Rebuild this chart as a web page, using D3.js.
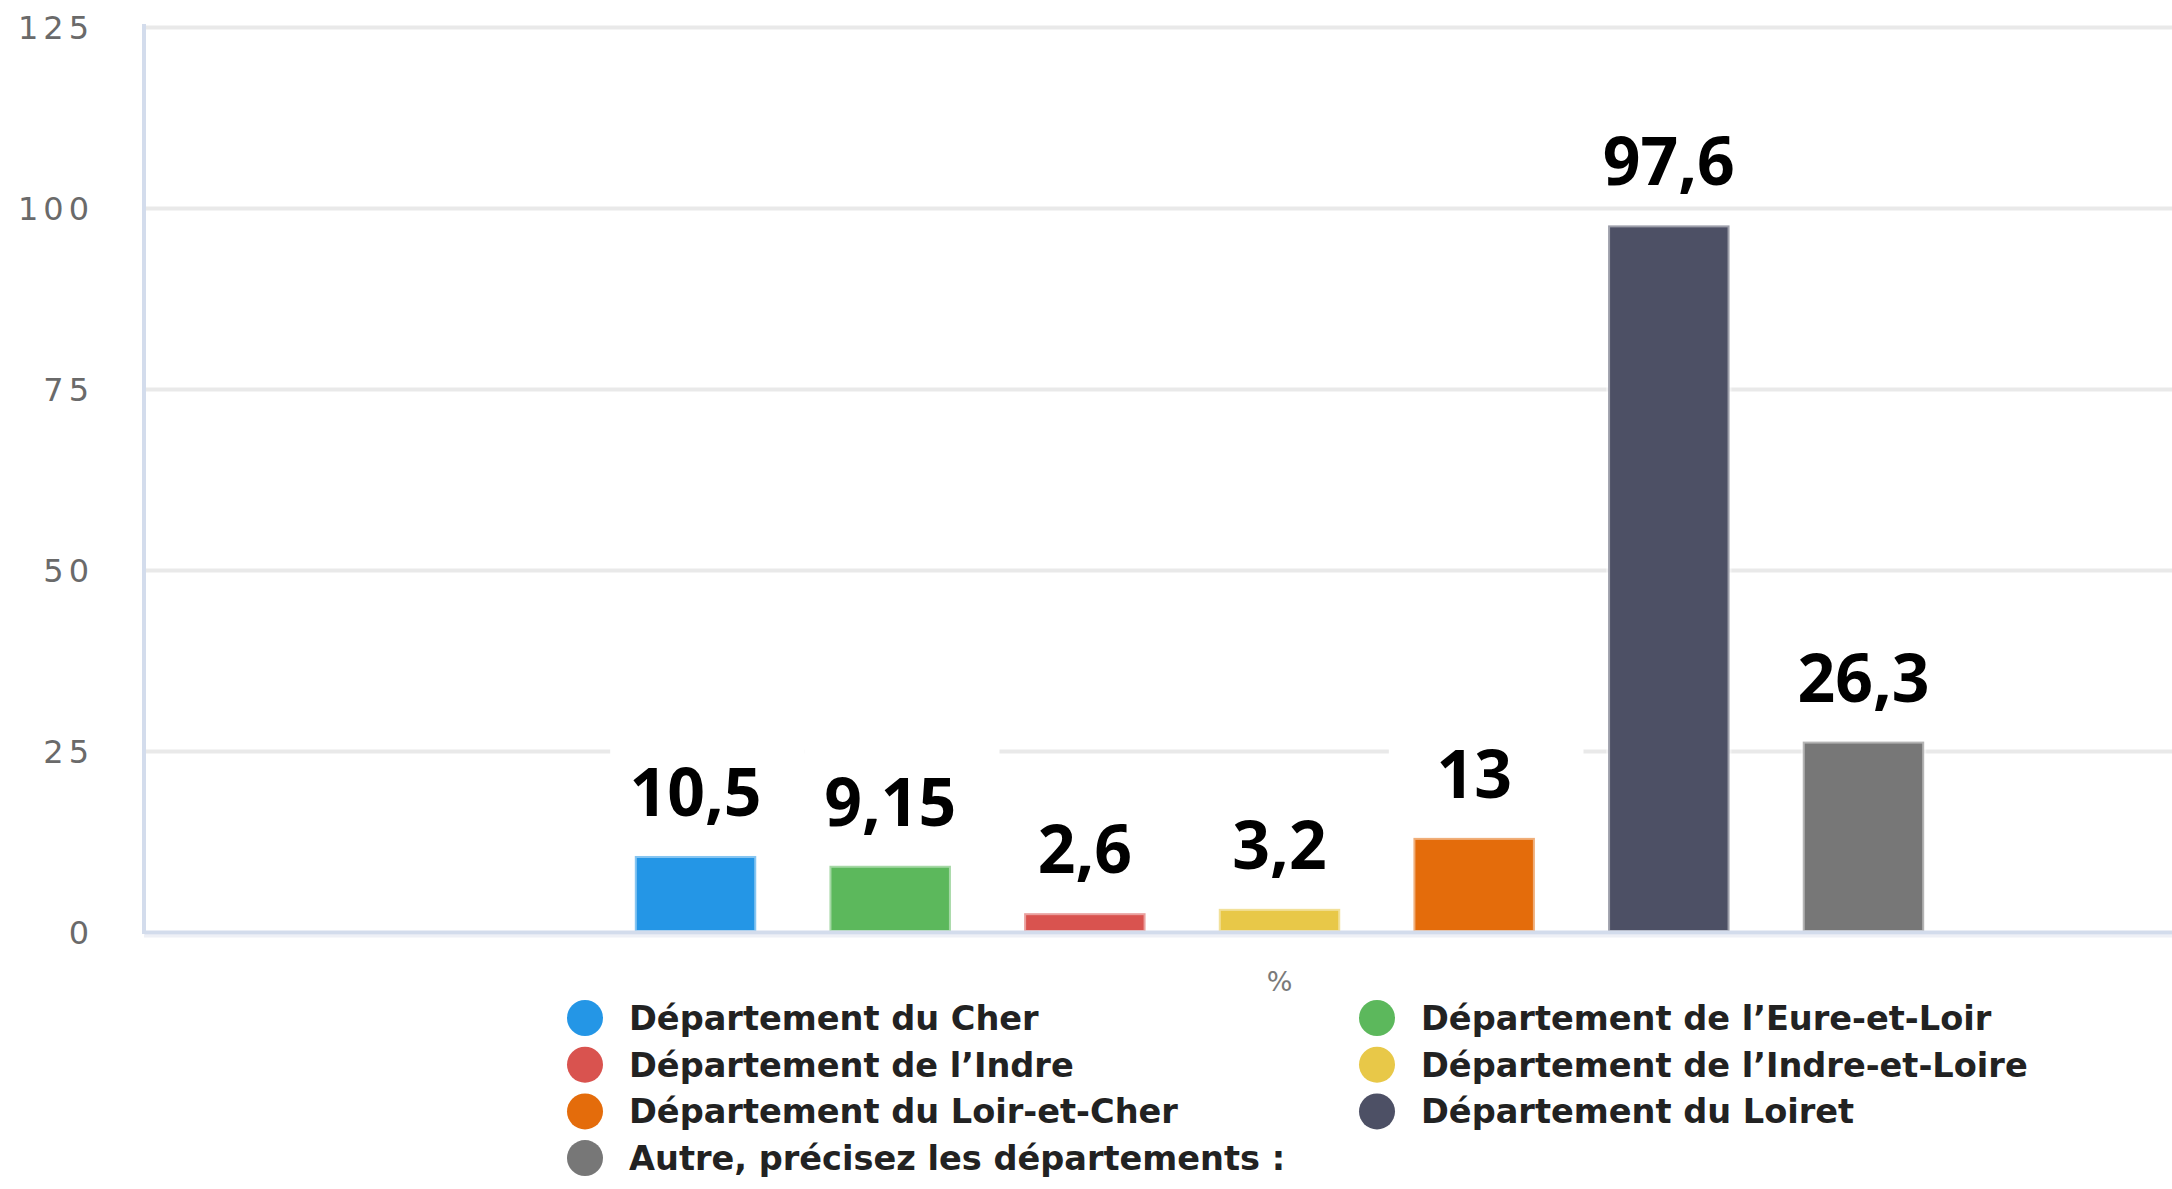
<!DOCTYPE html>
<html>
<head>
<meta charset="utf-8">
<script src="https://cdn.jsdelivr.net/npm/d3@7"></script>
<style>
  html, body { margin: 0; padding: 0; background: #ffffff; }
  svg { display: block; }
</style>
</head>
<body>
<svg id="chart" width="2172" height="1189"></svg>
<script>
// ---- data ----
const categories = ["%"];
const seriesNames = [
  "Département du Cher",
  "Département de l’Eure-et-Loir",
  "Département de l’Indre",
  "Département de l’Indre-et-Loire",
  "Département du Loir-et-Cher",
  "Département du Loiret",
  "Autre, précisez les départements :"
];
const values = [10.5, 9.15, 2.6, 3.2, 13, 97.6, 26.3];
const colors = ["#2496e6", "#5cb85c", "#d9534f", "#e8c848", "#e46c0b", "#4d5065", "#777777"];
const yTicks = [0, 25, 50, 75, 100, 125];

// ---- layout ----
const W = 2172, H = 1189;
const plotLeft = 144, plotRight = 2415, plotTop = 27, plotBottom = 932;

const svg = d3.select("#chart");
const frFormat = d3.formatLocale({ decimal: ",", thousands: " ", grouping: [3], currency: ["", " €"] }).format("~g");

const y = d3.scaleLinear().domain([0, 125]).range([plotBottom, plotTop]);
const x0 = d3.scaleBand().domain(categories).range([plotLeft, plotRight]).paddingInner(0).paddingOuter(1 / 3);
const x1 = d3.scaleBand().domain(seriesNames).range([0, x0.bandwidth()]).paddingInner(0.376).paddingOuter(0.188);

// gridlines
const grid = svg.append("g")
  .attr("transform", `translate(${plotLeft},0)`)
  .call(d3.axisLeft(y).tickValues(yTicks.filter(v => v > 0)).tickSize(-(plotRight - plotLeft)).tickFormat(""));
grid.select(".domain").remove();
grid.selectAll(".tick line").attr("stroke", "#e9e9e9").attr("stroke-width", 4);

// y tick labels
const yAxis = svg.append("g")
  .attr("transform", `translate(${plotLeft},0)`)
  .call(d3.axisLeft(y).tickValues(yTicks).tickSize(0).tickPadding(50));
yAxis.select(".domain").remove();
yAxis.selectAll(".tick text")
  .attr("font-family", "DejaVu Sans, sans-serif")
  .attr("font-size", 32)
  .attr("letter-spacing", "5px")
  .attr("fill", "#6a6a6a")
  .attr("dy", "0.36em");

// bars
const group = svg.append("g").attr("transform", `translate(${x0(categories[0])},0)`);
const series = seriesNames.map((name, i) => ({ name, value: values[i], color: colors[i] }));

group.selectAll("rect.bar")
  .data(series)
  .join("rect")
  .attr("class", "bar")
  .attr("x", d => x1(d.name))
  .attr("y", d => y(d.value))
  .attr("width", x1.bandwidth())
  .attr("height", d => y(0) - y(d.value))
  .attr("fill", d => d.color)
  .attr("stroke", "#ffffff")
  .attr("stroke-opacity", 0.45)
  .attr("stroke-width", 4);

// data label backgrounds
const labelGap = 40;
group.selectAll("rect.lblbg")
  .data(series)
  .join("rect")
  .attr("class", "lblbg")
  .attr("x", d => x1(d.name) + x1.bandwidth() / 2 - x1.step() / 2 + 12)
  .attr("y", d => y(d.value) - labelGap - 80)
  .attr("width", x1.step())
  .attr("height", 95)
  .attr("fill", "#ffffff");

// data labels
group.selectAll("text.lbl")
  .data(series)
  .join("text")
  .attr("class", "lbl")
  .attr("x", d => x1(d.name) + x1.bandwidth() / 2)
  .attr("y", d => y(d.value) - labelGap)
  .attr("text-anchor", "middle")
  .attr("font-family", "Open Sans, sans-serif")
  .attr("font-weight", 700)
  .attr("font-size", 66)
  .attr("fill", "#000000")
  .text(d => frFormat(d.value));

// axis lines
svg.append("line")
  .attr("x1", plotLeft).attr("x2", W)
  .attr("y1", plotBottom + 4).attr("y2", plotBottom + 4)
  .attr("stroke", "#eef0f6").attr("stroke-width", 3);
svg.append("line")
  .attr("x1", plotLeft).attr("x2", plotLeft)
  .attr("y1", plotTop - 3).attr("y2", plotBottom + 2)
  .attr("stroke", "#d3dcec").attr("stroke-width", 4);

const xAxis = svg.append("g")
  .attr("transform", `translate(0,${plotBottom})`)
  .call(d3.axisBottom(x0).tickSize(0).tickPadding(40));
xAxis.select(".domain")
  .attr("stroke", "#d3dcec").attr("stroke-width", 4);
xAxis.selectAll(".tick text")
  .attr("font-family", "DejaVu Sans, sans-serif")
  .attr("font-size", 27)
  .attr("fill", "#7a7a7a");

// legend
const legendColX = [585, 1377];
const legendRowY0 = 1018, legendRowStep = 46.7;
const legend = svg.append("g");
const items = legend.selectAll("g.item")
  .data(series)
  .join("g")
  .attr("class", "item")
  .attr("transform", (d, i) => `translate(${legendColX[i % 2]},${legendRowY0 + Math.floor(i / 2) * legendRowStep})`);
items.append("circle")
  .attr("r", 18)
  .attr("fill", d => d.color);
items.append("text")
  .attr("x", 44)
  .attr("dy", 12)
  .attr("font-family", "DejaVu Sans, sans-serif")
  .attr("font-weight", 700)
  .attr("font-size", 33.6)
  .attr("fill", "#222222")
  .text(d => d.name);
</script>
</body>
</html>
